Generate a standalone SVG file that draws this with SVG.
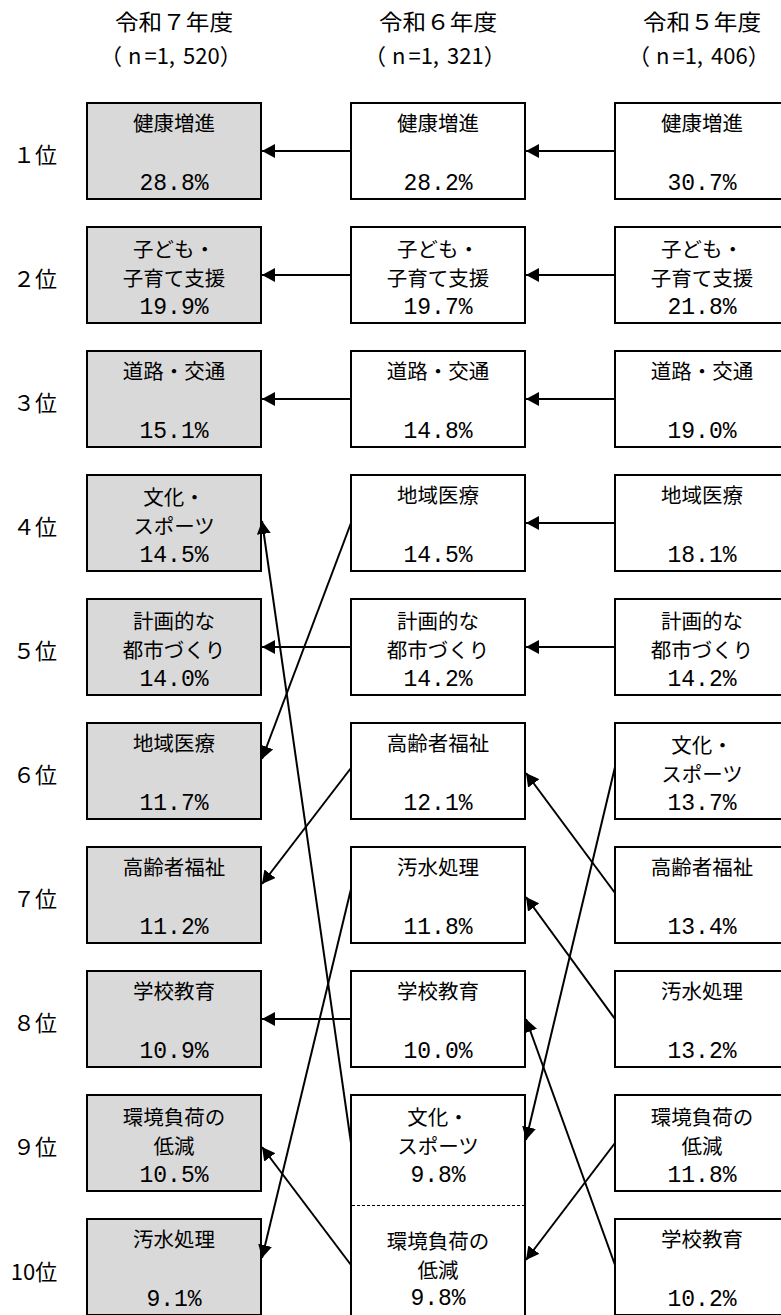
<svg xmlns="http://www.w3.org/2000/svg" width="781" height="1315" viewBox="0 0 781 1315">
<style>
.hd{font-family:"Noto Sans CJK JP",sans-serif;font-size:22px;fill:#000}
.rk{font-family:"Noto Sans CJK JP",sans-serif;font-size:22px;fill:#000;text-anchor:middle}
.t{font-family:"Noto Sans CJK JP",sans-serif;font-size:20.5px;fill:#000;text-anchor:middle}
.p{font-family:"Liberation Mono",monospace;font-size:23px;fill:#000;text-anchor:middle}
.b1{fill:#d9d9d9;stroke:#000;stroke-width:2}
.b2{fill:#fff;stroke:#000;stroke-width:2}
.c{stroke:#000;stroke-width:2;fill:none;marker-end:url(#ah)}
</style>
<defs>
<marker id="ah" viewBox="0 0 13 14" refX="13" refY="7" markerWidth="13" markerHeight="14" markerUnits="userSpaceOnUse" orient="auto"><path d="M0,0 L13,7 L0,14 z" fill="#000"/></marker>
</defs>
<rect width="781" height="1315" fill="#fff"/>
<g id="headers">
<text class="hd" x="174" y="30" text-anchor="middle" textLength="118" lengthAdjust="spacingAndGlyphs">令和７年度</text>
<text class="hd" x="100" y="64">（<tspan dx="6">n</tspan><tspan dx="3">=1,</tspan><tspan dx="8">520</tspan>）</text>
<text class="hd" x="438" y="30" text-anchor="middle" textLength="118" lengthAdjust="spacingAndGlyphs">令和６年度</text>
<text class="hd" x="364" y="64">（<tspan dx="6">n</tspan><tspan dx="3">=1,</tspan><tspan dx="8">321</tspan>）</text>
<text class="hd" x="702" y="30" text-anchor="middle" textLength="118" lengthAdjust="spacingAndGlyphs">令和５年度</text>
<text class="hd" x="628" y="64">（<tspan dx="6">n</tspan><tspan dx="3">=1,</tspan><tspan dx="8">406</tspan>）</text>
</g>
<g id="ranks">
<text class="rk" x="35" y="163">１位</text>
<text class="rk" x="35" y="287">２位</text>
<text class="rk" x="35" y="411">３位</text>
<text class="rk" x="35" y="535">４位</text>
<text class="rk" x="35" y="659">５位</text>
<text class="rk" x="35" y="783">６位</text>
<text class="rk" x="35" y="907">７位</text>
<text class="rk" x="35" y="1031">８位</text>
<text class="rk" x="35" y="1155">９位</text>
<text class="rk" x="34" y="1280">10位</text>
</g>
<g id="col1">
<g id="c1r1"><rect class="b1" x="87" y="103" width="174" height="96"/><text class="t" x="174" y="131">健康増進</text><text class="p" x="174" y="190">28.8%</text></g>
<g id="c1r2"><rect class="b1" x="87" y="227" width="174" height="96"/><text class="t" x="174" y="257">子ども・</text><text class="t" x="174" y="286">子育て支援</text><text class="p" x="174" y="314">19.9%</text></g>
<g id="c1r3"><rect class="b1" x="87" y="351" width="174" height="96"/><text class="t" x="174" y="379">道路・交通</text><text class="p" x="174" y="438">15.1%</text></g>
<g id="c1r4"><rect class="b1" x="87" y="475" width="174" height="96"/><text class="t" x="174" y="505">文化・</text><text class="t" x="174" y="534">スポーツ</text><text class="p" x="174" y="562">14.5%</text></g>
<g id="c1r5"><rect class="b1" x="87" y="599" width="174" height="96"/><text class="t" x="174" y="629">計画的な</text><text class="t" x="174" y="658">都市づくり</text><text class="p" x="174" y="686">14.0%</text></g>
<g id="c1r6"><rect class="b1" x="87" y="723" width="174" height="96"/><text class="t" x="174" y="751">地域医療</text><text class="p" x="174" y="810">11.7%</text></g>
<g id="c1r7"><rect class="b1" x="87" y="847" width="174" height="96"/><text class="t" x="174" y="875">高齢者福祉</text><text class="p" x="174" y="934">11.2%</text></g>
<g id="c1r8"><rect class="b1" x="87" y="971" width="174" height="96"/><text class="t" x="174" y="999">学校教育</text><text class="p" x="174" y="1058">10.9%</text></g>
<g id="c1r9"><rect class="b1" x="87" y="1095" width="174" height="96"/><text class="t" x="174" y="1125">環境負荷の</text><text class="t" x="174" y="1154">低減</text><text class="p" x="174" y="1182">10.5%</text></g>
<g id="c1r10"><rect class="b1" x="87" y="1219" width="174" height="96"/><text class="t" x="174" y="1247">汚水処理</text><text class="p" x="174" y="1306">9.1%</text></g>
</g>
<g id="col2">
<g id="c2r1"><rect class="b2" x="351" y="103" width="174" height="96"/><text class="t" x="438" y="131">健康増進</text><text class="p" x="438" y="190">28.2%</text></g>
<g id="c2r2"><rect class="b2" x="351" y="227" width="174" height="96"/><text class="t" x="438" y="257">子ども・</text><text class="t" x="438" y="286">子育て支援</text><text class="p" x="438" y="314">19.7%</text></g>
<g id="c2r3"><rect class="b2" x="351" y="351" width="174" height="96"/><text class="t" x="438" y="379">道路・交通</text><text class="p" x="438" y="438">14.8%</text></g>
<g id="c2r4"><rect class="b2" x="351" y="475" width="174" height="96"/><text class="t" x="438" y="503">地域医療</text><text class="p" x="438" y="562">14.5%</text></g>
<g id="c2r5"><rect class="b2" x="351" y="599" width="174" height="96"/><text class="t" x="438" y="629">計画的な</text><text class="t" x="438" y="658">都市づくり</text><text class="p" x="438" y="686">14.2%</text></g>
<g id="c2r6"><rect class="b2" x="351" y="723" width="174" height="96"/><text class="t" x="438" y="751">高齢者福祉</text><text class="p" x="438" y="810">12.1%</text></g>
<g id="c2r7"><rect class="b2" x="351" y="847" width="174" height="96"/><text class="t" x="438" y="875">汚水処理</text><text class="p" x="438" y="934">11.8%</text></g>
<g id="c2r8"><rect class="b2" x="351" y="971" width="174" height="96"/><text class="t" x="438" y="999">学校教育</text><text class="p" x="438" y="1058">10.0%</text></g>
<g id="c2r9r10"><rect class="b2" x="351" y="1095" width="174" height="222"/><line x1="352" y1="1205.5" x2="524" y2="1205.5" stroke="#000" stroke-width="1" stroke-dasharray="3,2"/>
<text class="t" x="438" y="1125">文化・</text><text class="t" x="438" y="1154">スポーツ</text><text class="p" x="438" y="1182">9.8%</text>
<text class="t" x="438" y="1249">環境負荷の</text><text class="t" x="438" y="1278">低減</text><text class="p" x="438" y="1305">9.8%</text></g>
</g>
<g id="col3">
<g id="c3r1"><rect class="b2" x="615" y="103" width="174" height="96"/><text class="t" x="702" y="131">健康増進</text><text class="p" x="702" y="190">30.7%</text></g>
<g id="c3r2"><rect class="b2" x="615" y="227" width="174" height="96"/><text class="t" x="702" y="257">子ども・</text><text class="t" x="702" y="286">子育て支援</text><text class="p" x="702" y="314">21.8%</text></g>
<g id="c3r3"><rect class="b2" x="615" y="351" width="174" height="96"/><text class="t" x="702" y="379">道路・交通</text><text class="p" x="702" y="438">19.0%</text></g>
<g id="c3r4"><rect class="b2" x="615" y="475" width="174" height="96"/><text class="t" x="702" y="503">地域医療</text><text class="p" x="702" y="562">18.1%</text></g>
<g id="c3r5"><rect class="b2" x="615" y="599" width="174" height="96"/><text class="t" x="702" y="629">計画的な</text><text class="t" x="702" y="658">都市づくり</text><text class="p" x="702" y="686">14.2%</text></g>
<g id="c3r6"><rect class="b2" x="615" y="723" width="174" height="96"/><text class="t" x="702" y="753">文化・</text><text class="t" x="702" y="782">スポーツ</text><text class="p" x="702" y="810">13.7%</text></g>
<g id="c3r7"><rect class="b2" x="615" y="847" width="174" height="96"/><text class="t" x="702" y="875">高齢者福祉</text><text class="p" x="702" y="934">13.4%</text></g>
<g id="c3r8"><rect class="b2" x="615" y="971" width="174" height="96"/><text class="t" x="702" y="999">汚水処理</text><text class="p" x="702" y="1058">13.2%</text></g>
<g id="c3r9"><rect class="b2" x="615" y="1095" width="174" height="96"/><text class="t" x="702" y="1125">環境負荷の</text><text class="t" x="702" y="1154">低減</text><text class="p" x="702" y="1182">11.8%</text></g>
<g id="c3r10"><rect class="b2" x="615" y="1219" width="174" height="96"/><text class="t" x="702" y="1247">学校教育</text><text class="p" x="702" y="1306">10.2%</text></g>
</g>
<g id="connectors">
<line class="c" x1="351" y1="151" x2="262" y2="151"/>
<line class="c" x1="615" y1="151" x2="526" y2="151"/>
<line class="c" x1="351" y1="275" x2="262" y2="275"/>
<line class="c" x1="615" y1="275" x2="526" y2="275"/>
<line class="c" x1="351" y1="399" x2="262" y2="399"/>
<line class="c" x1="615" y1="399" x2="526" y2="399"/>
<line class="c" x1="615" y1="523" x2="526" y2="523"/>
<line class="c" x1="351" y1="647" x2="262" y2="647"/>
<line class="c" x1="615" y1="647" x2="526" y2="647"/>
<line class="c" x1="351" y1="1019" x2="262" y2="1019"/>
<line class="c" x1="351" y1="523" x2="262" y2="759"/>
<line class="c" x1="351" y1="768" x2="262" y2="884"/>
<line class="c" x1="351" y1="889" x2="262" y2="1258"/>
<line class="c" x1="351" y1="1143" x2="262" y2="521"/>
<line class="c" x1="351" y1="1265" x2="262" y2="1147"/>
<line class="c" x1="615" y1="767" x2="526" y2="1140"/>
<line class="c" x1="615" y1="893" x2="526" y2="773"/>
<line class="c" x1="615" y1="1019" x2="526" y2="897"/>
<line class="c" x1="615" y1="1143" x2="526" y2="1260"/>
<line class="c" x1="615" y1="1265" x2="526" y2="1019"/>
</g>
</svg>
